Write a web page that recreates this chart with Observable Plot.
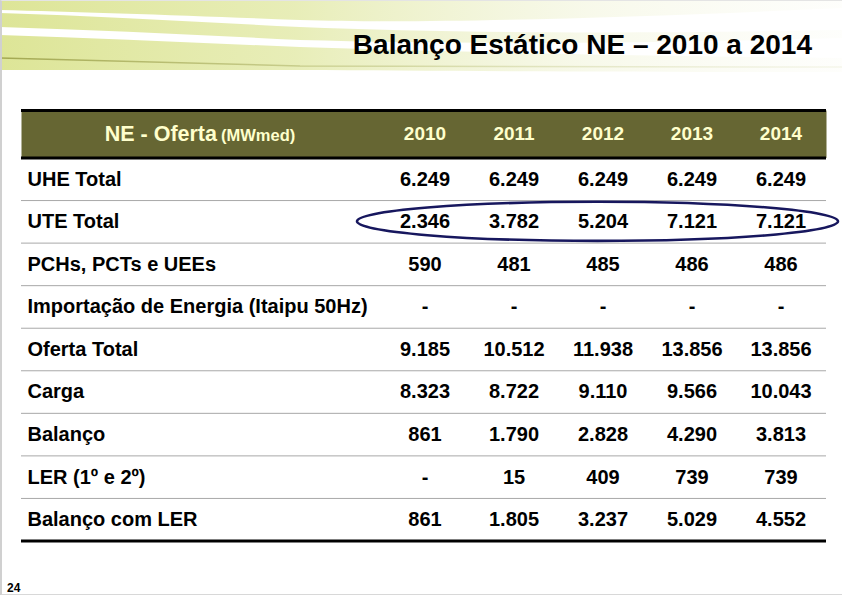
<!DOCTYPE html>
<html>
<head>
<meta charset="utf-8">
<script src="https://cdn.jsdelivr.net/npm/d3@7"></script>
<script src="https://cdn.jsdelivr.net/npm/@observablehq/plot@0.6"></script>
<style>
  html, body { margin: 0; padding: 0; background: #ffffff; }
  #page { position: relative; width: 842px; height: 595px; overflow: hidden;
          font-family: "Liberation Sans", Arial, sans-serif; background: #fff; }
  #page > svg, #page .layer { position: absolute; left: 0; top: 0; }
  #title { position: absolute; right: 30px; top: 31px; margin: 0; font-size: 28px; line-height: 28px;
           font-weight: bold; color: #000; white-space: nowrap; }
  #pageno { position: absolute; left: 7px; top: 582px; font-size: 12px; line-height: 12px; font-weight: bold; color: #000; }
  #border { position: absolute; left: 0; top: 0; width: 840px; height: 593px; border-left: 2px solid #d0d0d0;
            border-bottom: 2px solid #d8d8d8; border-top: 1px solid #e4e4e4; pointer-events: none; }
</style>
</head>
<body>
<div id="page">
  <svg class="layer" width="842" height="595" aria-hidden="true">
    <defs>
      <linearGradient id="fade" x1="0" x2="842" y1="0" y2="0" gradientUnits="userSpaceOnUse">
        <stop offset="0" stop-color="#dde597" stop-opacity="1"/>
        <stop offset="0.35" stop-color="#e2e9a6" stop-opacity="0.8"/>
        <stop offset="0.7" stop-color="#eaeec4" stop-opacity="0.35"/>
        <stop offset="1" stop-color="#f2f4dc" stop-opacity="0.1"/>
      </linearGradient>
      <linearGradient id="fadeLine" x1="0" x2="842" y1="0" y2="0" gradientUnits="userSpaceOnUse">
        <stop offset="0" stop-color="#a3a851" stop-opacity="1"/>
        <stop offset="0.5" stop-color="#c4c98a" stop-opacity="0.6"/>
        <stop offset="1" stop-color="#dcdfb8" stop-opacity="0.25"/>
      </linearGradient>
    </defs>
    <path d="M0,0 L842,0 L842,8 C620,18 420,24 300,20 C200,16 80,12 0,10 Z" fill="url(#fade)"/>
    <path d="M0,13 C100,16 200,22 300,27 C450,33 620,34 842,30 L842,38 C620,44 450,44 300,40 C200,35 100,30 0,27 Z" fill="url(#fade)"/>
    <path d="M0,35 C100,38 200,43 300,47 C450,52 650,56 842,58 L842,72 C650,72 450,71 300,70 C200,70 100,70 0,70 Z" fill="url(#fade)"/>
    <path d="M0,58 C100,61 200,64 300,66 C450,67 650,67 842,67" fill="none" stroke="url(#fadeLine)" stroke-width="1.5"/>
  </svg>
  <div id="border"></div>
  <div id="title">Balanço Estático NE – 2010 a 2014</div>
  <div id="pageno">24</div>
</div>
<script>
// ---------- data ----------
const years = ["2010", "2011", "2012", "2013", "2014"];
const headerLabel = "NE - Oferta";
const headerUnit = "(MWmed)";
const rows = [
  "UHE Total",
  "UTE Total",
  "PCHs, PCTs e UEEs",
  "Importação de Energia (Itaipu 50Hz)",
  "Oferta Total",
  "Carga",
  "Balanço",
  "LER (1º e 2º)",
  "Balanço com LER"
];
const uheTotal      = [6249, 6249, 6249, 6249, 6249];
const uteTotal      = [2346, 3782, 5204, 7121, 7121];
const pchs          = [590, 481, 485, 486, 486];
const importacao    = [null, null, null, null, null];
const ofertaTotal   = [9185, 10512, 11938, 13856, 13856];
const carga         = [8323, 8722, 9110, 9566, 10043];
const balanco       = [861, 1790, 2828, 4290, 3813];
const ler           = [null, 15, 409, 739, 739];
const balancoComLer = [861, 1805, 3237, 5029, 4552];
const highlightedRow = "UTE Total";

const series = [uheTotal, uteTotal, pchs, importacao, ofertaTotal, carga, balanco, ler, balancoComLer];
const cells = rows.flatMap((row, r) => years.map((year, c) => ({row, r, year, value: series[r][c]})));

// ---------- layout / style ----------
const W = 842, H = 595;
const tableLeft = 21, tableRight = 826, labelColRight = 378;
const headerTop = 110, headerBottom = 157.5, tableBottom = 540.5;
const font = "Liberation Sans, Arial, Helvetica, sans-serif";
const olive = "#666633", cream = "#ffffcc";
const ptBR = d3.formatLocale({decimal: ",", thousands: ".", grouping: [3], currency: ["R$", ""]});
const fmt = v => (v == null ? "-" : ptBR.format(",d")(v));

const page = document.getElementById("page");
const xScale = {type: "band", domain: years, range: [labelColRight, tableRight], padding: 0, axis: null};
const labelSplitDx = (labelColRight - tableLeft) / 2 + 18;

// ---------- header ----------
const headerPlot = Plot.plot({
  width: W, height: H,
  marginLeft: tableLeft, marginRight: W - tableRight, marginTop: headerTop, marginBottom: H - headerBottom,
  x: xScale,
  y: {domain: [0, 1], range: [headerTop, headerBottom], axis: null},
  style: {background: "none", overflow: "visible", fontFamily: font},
  marks: [
    Plot.frame({fill: olive, stroke: null}),
    Plot.ruleY([0, 1], {stroke: "#000", strokeWidth: 3}),
    Plot.text([headerLabel], {text: d => d, y: () => 0.5, frameAnchor: "left", dx: labelSplitDx - 1,
      textAnchor: "end", fill: cream, fontSize: 21.5, fontWeight: "bold"}),
    Plot.text([headerUnit], {text: d => d, y: () => 0.5, frameAnchor: "left", dx: labelSplitDx + 3,
      textAnchor: "start", fill: cream, fontSize: 16.5, fontWeight: "bold", dy: 1}),
    Plot.text(years, {x: d => d, y: () => 0.5, text: d => d, fill: cream, fontSize: 19, fontWeight: "bold"})
  ]
});

// ---------- body ----------
const bodyPlot = Plot.plot({
  width: W, height: H,
  marginLeft: tableLeft, marginRight: W - tableRight, marginTop: headerBottom, marginBottom: H - tableBottom,
  x: xScale,
  y: {domain: [0, rows.length], range: [headerBottom, tableBottom], axis: null},
  style: {background: "none", overflow: "visible", fontFamily: font},
  marks: [
    Plot.ruleY(d3.range(1, rows.length), {stroke: "#a8a8a8", strokeWidth: 1}),
    Plot.ruleY([rows.length], {stroke: "#000", strokeWidth: 3}),
    Plot.text(rows, {y: (d, i) => i + 0.5, text: d => d, frameAnchor: "left", dx: 6, textAnchor: "start",
      fill: "#000", fontSize: 20, fontWeight: "bold"}),
    Plot.text(cells, {x: "year", y: d => d.r + 0.5, text: d => fmt(d.value), fill: "#000", fontSize: 20, fontWeight: "bold"})
  ]
});

page.appendChild(headerPlot);
page.appendChild(bodyPlot);
page.appendChild(document.getElementById("title"));
page.appendChild(document.getElementById("pageno"));

// ---------- highlight ellipse around the UTE row ----------
const sx = bodyPlot.scale("x"), sy = bodyPlot.scale("y");
const ri = rows.indexOf(highlightedRow);
const eLeft = sx.apply(years[0]) - 23;
const eRight = sx.apply(years[years.length - 1]) + sx.bandwidth + 13;
const eTop = sy.apply(ri + 0.04), eBottom = sy.apply(ri + 0.96);
d3.select(bodyPlot).append("ellipse")
  .attr("cx", (eLeft + eRight) / 2).attr("cy", (eTop + eBottom) / 2)
  .attr("rx", (eRight - eLeft) / 2).attr("ry", (eBottom - eTop) / 2)
  .attr("fill", "none").attr("stroke", "#17175e").attr("stroke-width", 2.6);
</script>
</body>
</html>
